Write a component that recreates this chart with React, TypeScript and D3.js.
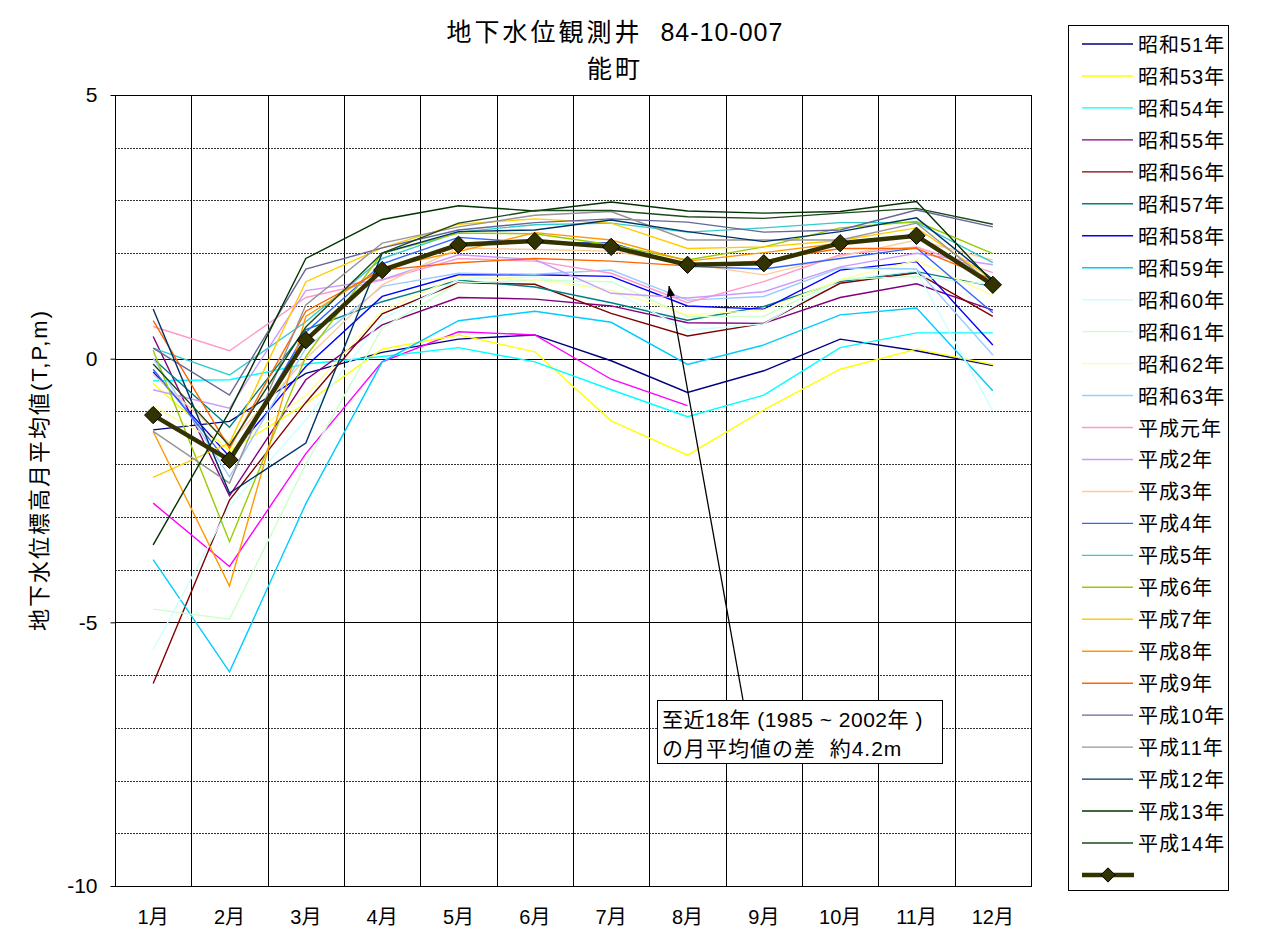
import React, { useEffect, useRef } from 'react';
import * as d3 from 'd3';

const months = ['1月', '2月', '3月', '4月', '5月', '6月', '7月', '8月', '9月', '10月', '11月', '12月'];
const yTicks = [5, 0, -5, -10];

type Row = { name: string; color: string; legend: boolean; values: (number | null)[] };

const s51 = [-1.35, -1.19, -0.28, 0.12, 0.37, 0.45, -0.04, -0.64, -0.23, 0.37, 0.15, -0.13];
const s52 = [-2.74, -3.94, -1.8, -0.06, 0.51, 0.45, -0.39, -0.89, null, null, null, null];
const s53 = [-0.47, -1.75, -0.85, 0.18, 0.45, 0.13, -1.18, -1.83, -0.97, -0.2, 0.18, -0.11];
const s54 = [-0.42, -0.4, -0.1, 0.04, 0.21, -0.06, -0.59, -1.1, -0.69, 0.21, 0.49, 0.49];
const s55 = [0.42, -2.6, -0.4, 0.64, 1.16, 1.13, 1.0, 0.68, 0.67, 1.16, 1.42, 0.92];
const s56 = [-6.16, -2.68, -0.83, 0.85, 1.44, 1.41, 0.86, 0.43, 0.67, 1.43, 1.63, 0.8];
const s57 = [0.0, -1.3, 0.55, 1.08, 1.49, 1.36, 1.06, 0.73, 0.99, 1.46, 1.65, 1.37];
const s58 = [-0.25, -1.86, -0.15, 1.18, 1.59, 1.59, 1.56, 1.0, 0.94, 1.68, 1.84, 0.26];
const s59 = [-3.81, -5.94, -2.75, -0.06, 0.72, 0.9, 0.69, -0.11, 0.26, 0.83, 0.96, -0.61];
const s60 = [-5.52, -2.8, -1.16, 0.75, 1.5, 1.55, 1.3, 0.54, 0.66, 1.5, 1.66, -0.99];
const s61 = [-4.75, -4.94, -2.0, 0.58, 1.43, 1.49, 1.46, 0.8, 0.8, 1.5, 1.56, 1.4];
const s62 = [-0.9, -1.7, -0.7, 0.9, 1.56, 1.49, 1.3, 0.83, 0.92, 1.5, 1.86, 1.2];
const s63 = [0.01, -2.24, 0.2, 1.37, 1.62, 1.6, 1.68, 1.11, 1.18, 1.72, 1.7, 0.07];
const h01 = [0.61, 0.15, 1.16, 1.49, 1.9, 1.85, 1.62, 1.06, 1.46, 1.97, 2.12, 1.63];
const h02 = [-0.59, -0.94, 1.29, 1.5, 1.97, 1.88, 1.24, 1.15, 1.27, 1.74, 2.0, 1.78];
const h03 = [-0.3, -1.6, 0.0, 1.4, 2.1, 2.07, 2.04, 1.8, 1.59, 1.94, 2.25, 1.87];
const h04 = [-0.2, -2.0, 0.5, 1.8, 2.3, 2.2, 2.2, 1.75, 1.7, 1.9, 2.1, 0.87];
const h05 = [0.2, -0.31, 0.7, 1.9, 2.4, 2.54, 2.57, 2.4, 2.48, 2.58, 2.58, 1.82];
const h06 = [0.16, -3.47, 0.04, 2.0, 2.38, 2.37, 2.16, 1.87, 2.12, 2.48, 2.6, 1.99];
const h07 = [-2.25, -1.6, 1.46, 2.1, 2.55, 2.65, 2.57, 2.09, 2.12, 2.24, 2.48, 1.5];
const h08 = [-1.38, -4.31, 0.8, 1.72, 2.03, 2.39, 2.25, 1.85, 2.01, 2.19, 2.31, 1.45];
const h09 = [0.72, -1.7, 0.9, 1.68, 1.82, 1.9, 1.85, 1.76, 1.86, 2.09, 2.09, 1.5];
const h10 = [0.2, -0.69, 1.7, 2.1, 2.44, 2.58, 2.65, 2.59, 2.4, 2.44, 2.82, 2.5];
const h11 = [-1.38, -2.36, 1.02, 2.19, 2.5, 2.72, 2.79, 2.25, 2.25, 2.25, 2.57, 1.4];
const h12 = [0.94, -2.55, -1.6, 2.0, 2.41, 2.44, 2.63, 2.41, 2.22, 2.41, 2.67, 1.5];
const h13 = [-3.53, -1.0, 1.9, 2.64, 2.9, 2.8, 2.97, 2.8, 2.76, 2.79, 2.98, 1.45];
const h14 = [-0.1, -1.65, 0.6, 2.0, 2.57, 2.81, 2.81, 2.69, 2.66, 2.76, 2.85, 2.55];
const average = [-1.07, -1.92, 0.35, 1.68, 2.16, 2.23, 2.12, 1.78, 1.81, 2.19, 2.33, 1.4];

const rows: Row[] = [
    { name: '昭和51年', color: '#000080', legend: true, values: s51 },
    { name: '昭和52年', color: '#FF00FF', legend: false, values: s52 },
    { name: '昭和53年', color: '#FFFF00', legend: true, values: s53 },
    { name: '昭和54年', color: '#00FFFF', legend: true, values: s54 },
    { name: '昭和55年', color: '#800080', legend: true, values: s55 },
    { name: '昭和56年', color: '#800000', legend: true, values: s56 },
    { name: '昭和57年', color: '#008080', legend: true, values: s57 },
    { name: '昭和58年', color: '#0000FF', legend: true, values: s58 },
    { name: '昭和59年', color: '#00CCFF', legend: true, values: s59 },
    { name: '昭和60年', color: '#CCFFFF', legend: true, values: s60 },
    { name: '昭和61年', color: '#CCFFCC', legend: true, values: s61 },
    { name: '昭和62年', color: '#FFFF99', legend: true, values: s62 },
    { name: '昭和63年', color: '#99CCFF', legend: true, values: s63 },
    { name: '平成元年', color: '#FF99CC', legend: true, values: h01 },
    { name: '平成2年', color: '#CC99FF', legend: true, values: h02 },
    { name: '平成3年', color: '#FFCC99', legend: true, values: h03 },
    { name: '平成4年', color: '#3366FF', legend: true, values: h04 },
    { name: '平成5年', color: '#33CCCC', legend: true, values: h05 },
    { name: '平成6年', color: '#99CC00', legend: true, values: h06 },
    { name: '平成7年', color: '#FFCC00', legend: true, values: h07 },
    { name: '平成8年', color: '#FF9900', legend: true, values: h08 },
    { name: '平成9年', color: '#FF6600', legend: true, values: h09 },
    { name: '平成10年', color: '#666699', legend: true, values: h10 },
    { name: '平成11年', color: '#969696', legend: true, values: h11 },
    { name: '平成12年', color: '#003366', legend: true, values: h12 },
    { name: '平成13年', color: '#003300', legend: true, values: h13 },
    { name: '平成14年', color: '#1C4A1C', legend: true, values: h14 },
];

const FONT = '"Liberation Sans", Arial, "Noto Sans CJK JP", sans-serif';

const App: React.FC = () => {
    const svgRef = useRef<SVGSVGElement | null>(null);

    useEffect(() => {
        const width = 1261;
        const height = 933;
        const plot = { left: 115, right: 1031, top: 95, bottom: 886 };
        const avgColor = '#333300';

        const svg = d3.select(svgRef.current);
        svg.selectAll('*').remove();
        svg.attr('width', width).attr('height', height).style('font-family', FONT);

        svg.append('rect').attr('width', width).attr('height', height).attr('fill', '#fff');

        const x = d3.scaleBand<string>().domain(months).range([plot.left, plot.right]);
        const cx = (m: string) => (x(m) as number) + x.bandwidth() / 2;
        const y = d3.scaleLinear().domain([-10, 5]).range([plot.bottom, plot.top]);

        // 横グリッド
        const grid = svg.append('g');
        d3.range(-9, 5).forEach(v => {
            const solid = v === 0 || v === -5;
            grid.append('line')
                .attr('x1', plot.left).attr('x2', plot.right)
                .attr('y1', Math.round(y(v)) + 0.5).attr('y2', Math.round(y(v)) + 0.5)
                .attr('stroke', solid ? '#000' : '#333')
                .attr('stroke-width', 1)
                .attr('stroke-dasharray', solid ? null : '2,1');
        });
        // 縦グリッド
        months.forEach(m => {
            const gx = Math.round((x(m) as number) + x.bandwidth()) + 0.5;
            grid.append('line')
                .attr('x1', gx).attr('x2', gx)
                .attr('y1', plot.top).attr('y2', plot.bottom)
                .attr('stroke', '#000').attr('stroke-width', 1);
        });

        svg.append('rect')
            .attr('x', plot.left + 0.5).attr('y', plot.top + 0.5)
            .attr('width', plot.right - plot.left).attr('height', plot.bottom - plot.top)
            .attr('fill', 'none').attr('stroke', '#000').attr('stroke-width', 1);

        // 軸
        const yAxis = svg.append('g')
            .attr('transform', `translate(${plot.left + 0.5},0)`)
            .call(d3.axisLeft(y).tickValues(yTicks).tickSize(5).tickPadding(13).tickFormat(d => `${d}`));
        yAxis.select('.domain').remove();
        yAxis.selectAll('text').style('font-size', '21px').style('font-family', FONT).attr('fill', '#000');

        const xAxis = svg.append('g')
            .attr('transform', `translate(0,${plot.bottom + 0.5})`)
            .call(d3.axisBottom(x).tickSize(0).tickPadding(23));
        xAxis.select('.domain').remove();
        xAxis.selectAll('text').style('font-size', '20px').style('font-family', FONT).attr('fill', '#000');

        // 系列
        const line = d3.line<number | null>()
            .defined(d => d !== null)
            .x((_, i) => cx(months[i]))
            .y(d => y(d as number));

        svg.append('g').selectAll('path')
            .data(rows)
            .enter()
            .append('path')
            .attr('d', d => line(d.values) || '')
            .attr('fill', 'none')
            .attr('stroke', d => d.color)
            .attr('stroke-width', 1.4);

        svg.append('path')
            .attr('d', line(average) || '')
            .attr('fill', 'none')
            .attr('stroke', avgColor)
            .attr('stroke-width', 4.5);

        const diamond = d3.symbol().type(d3.symbolDiamond2).size(190);
        svg.append('g').selectAll('path')
            .data(average)
            .enter()
            .append('path')
            .attr('d', diamond() || '')
            .attr('transform', (d, i) => `translate(${cx(months[i])},${y(d)})`)
            .attr('fill', avgColor)
            .attr('stroke', '#000')
            .attr('stroke-width', 1);

        // タイトル
        const title = svg.append('text')
            .attr('x', 615).attr('y', 41)
            .attr('text-anchor', 'middle')
            .style('font-size', '25px')
            .attr('xml:space', 'preserve');
        title.append('tspan').style('letter-spacing', '3px').text('地下水位観測井 ');
        title.append('tspan').style('letter-spacing', '1px').text(' 84-10-007');
        svg.append('text')
            .attr('x', 615).attr('y', 78)
            .attr('text-anchor', 'middle')
            .style('font-size', '25px')
            .style('letter-spacing', '3px')
            .text('能町');

        svg.append('text')
            .attr('transform', `translate(47,470) rotate(-90)`)
            .attr('text-anchor', 'middle')
            .style('font-size', '22px')
            .style('letter-spacing', '2px')
            .text('地下水位標高月平均値(T,P,m)');

        // 注記
        const defs = svg.append('defs');
        defs.append('marker')
            .attr('id', 'arrow')
            .attr('viewBox', '0 0 10 10')
            .attr('refX', 10).attr('refY', 5)
            .attr('markerWidth', 8).attr('markerHeight', 8)
            .attr('orient', 'auto')
            .append('path')
            .attr('d', 'M0,1 L10,5 L0,9 Z')
            .attr('fill', '#000');

        svg.append('line')
            .attr('x1', 743).attr('y1', 700)
            .attr('x2', 669).attr('y2', 286)
            .attr('stroke', '#000').attr('stroke-width', 1.3)
            .attr('marker-end', 'url(#arrow)');

        svg.append('rect')
            .attr('x', 657.5).attr('y', 700.5)
            .attr('width', 285).attr('height', 63)
            .attr('fill', '#fff').attr('stroke', '#000').attr('stroke-width', 1);
        svg.append('text')
            .attr('x', 662).attr('y', 727)
            .style('font-size', '21px')
            .style('letter-spacing', '0.5px')
            .attr('xml:space', 'preserve')
            .text('至近18年 (1985 ~ 2002年 )');
        svg.append('text')
            .attr('x', 662).attr('y', 756)
            .style('font-size', '21px')
            .style('letter-spacing', '1px')
            .attr('xml:space', 'preserve')
            .text('の月平均値の差  約4.2m');

        // 凡例
        const legend = svg.append('g');
        legend.append('rect')
            .attr('x', 1068.5).attr('y', 25.5)
            .attr('width', 160).attr('height', 865)
            .attr('fill', '#fff').attr('stroke', '#000').attr('stroke-width', 1);

        const legendRows = rows.filter(r => r.legend);
        const step = 31.96;
        const items = legend.selectAll('.legend')
            .data(legendRows)
            .enter()
            .append('g')
            .attr('class', 'legend')
            .attr('transform', (_, i) => `translate(0, ${44 + i * step})`);

        items.append('line')
            .attr('x1', 1082).attr('x2', 1133)
            .attr('stroke', d => d.color).attr('stroke-width', 1.4);
        items.append('text')
            .attr('x', 1138).attr('y', 8)
            .style('font-size', '20px')
            .style('letter-spacing', '1px')
            .text(d => d.name);

        const avgY = 44 + legendRows.length * step;
        legend.append('line')
            .attr('x1', 1082).attr('x2', 1134)
            .attr('y1', avgY).attr('y2', avgY)
            .attr('stroke', avgColor).attr('stroke-width', 4.5);
        legend.append('path')
            .attr('d', d3.symbol().type(d3.symbolDiamond2).size(130)() || '')
            .attr('transform', `translate(1108,${avgY})`)
            .attr('fill', avgColor).attr('stroke', '#000');
    }, []);

    return <svg ref={svgRef} style={{ position: 'absolute', left: 0, top: 0 }}></svg>;
};

export default App;
